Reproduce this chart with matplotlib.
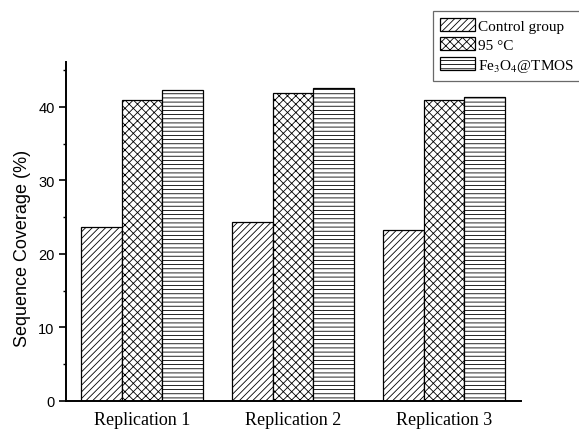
import matplotlib
matplotlib.use("Agg")
import matplotlib.pyplot as plt
import numpy as np

categories = ["Replication 1", "Replication 2", "Replication 3"]
series_names = ["Control group", "95 \u00b0C", "Fe$_3$O$_4$@TMOS"]
control = [23.7, 24.3, 23.3]
heat95 = [41.0, 41.9, 41.0]
fe3o4 = [42.3, 42.6, 41.3]
yticks = [0, 10, 20, 30, 40]
minor_yticks = [5, 15, 25, 35, 45]

plt.rcParams['hatch.linewidth'] = 0.6
plt.rcParams['mathtext.fontset'] = 'stix'

fig = plt.figure(figsize=(5.79, 4.31), dpi=100)
ax = fig.add_axes([0.1135, 0.0673, 0.7864, 0.7865])

x = np.arange(1, len(categories) + 1)
w = 0.271
hatches = ['/////', 'xxxx', '----']
for i, (vals, name, h) in enumerate(zip([control, heat95, fe3o4], series_names, hatches)):
    ax.bar(x + (i - 1) * w, vals, width=w, facecolor='white', edgecolor='black',
           linewidth=0.9, hatch=h, label=name)

ax.set_xlim(0.495, 3.51)
ax.set_ylim(0, 46.1)
ax.set_yticks(yticks)
ax.set_yticks(minor_yticks, minor=True)
ax.set_yticklabels([str(t) for t in yticks], family='Liberation Sans', fontsize=10.5)
ax.set_xticks(x)
ax.set_xticklabels(categories, family='Liberation Serif', fontsize=13)
ax.tick_params(axis='x', length=0, pad=7)
ax.tick_params(axis='y', which='major', length=5, width=1.2, direction='out', pad=3)
ax.tick_params(axis='y', which='minor', length=2.5, width=1.0, direction='out')
ax.spines['top'].set_visible(False)
ax.spines['right'].set_visible(False)
ax.spines['left'].set_linewidth(1.4)
ax.spines['bottom'].set_linewidth(1.4)

fig.text(23 / 579, 1 - 248 / 431, "Sequence Coverage (%)", rotation=90,
         ha='center', va='center', family='Liberation Sans', fontsize=13)

leg = fig.legend(loc='upper left', bbox_to_anchor=(433 / 579, 1 - 12 / 431),
                 prop={'family': 'Liberation Serif', 'size': 11},
                 frameon=True, fancybox=False, edgecolor='#444444',
                 handlelength=2.3, handleheight=0.95, handletextpad=0.2,
                 labelspacing=0.3, borderpad=0.45, borderaxespad=0.0)
leg.get_frame().set_linewidth(0.9)

fig.savefig("out.png", dpi=100)
